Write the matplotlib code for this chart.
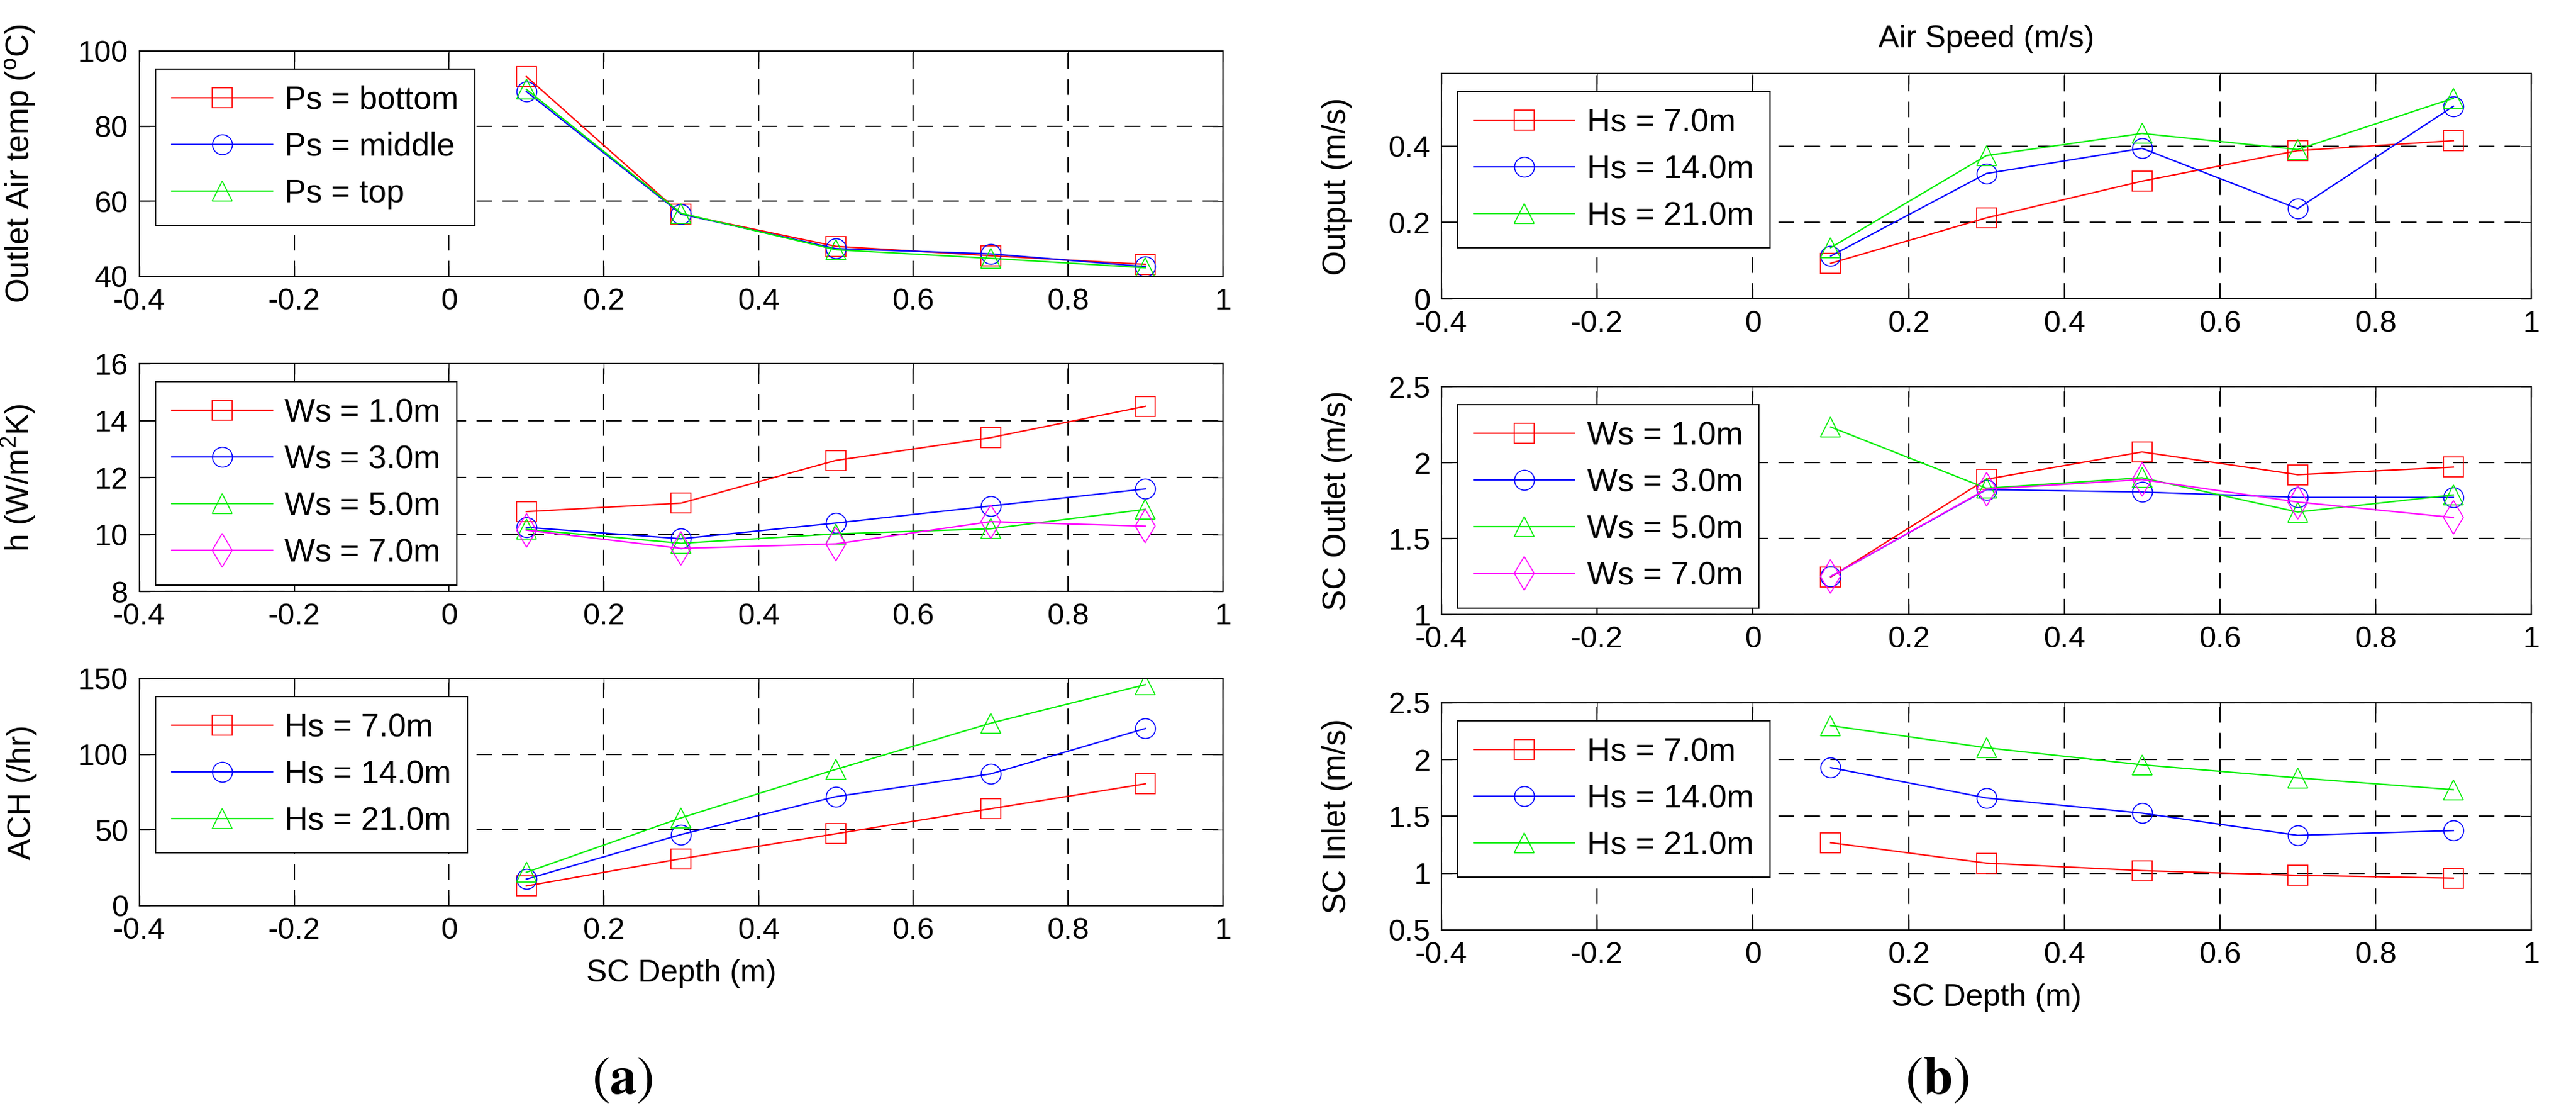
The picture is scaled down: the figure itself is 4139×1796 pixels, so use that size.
import numpy as np
import matplotlib
matplotlib.use('Agg')
import matplotlib.pyplot as plt

plt.rcParams['font.family'] = ['Liberation Sans', 'DejaVu Sans']
plt.rcParams['mathtext.fontset'] = 'custom'
plt.rcParams['mathtext.rm'] = 'Liberation Sans'
plt.rcParams['mathtext.it'] = 'Liberation Sans:italic'

# SC depth (m)
depth = [0.1, 0.3, 0.5, 0.7, 0.9]

# (a) outlet air temperature by position
temp_bottom = [93.2, 56.6, 48.0, 45.5, 43.2]
temp_middle = [89.2, 56.6, 47.4, 46.0, 42.6]
temp_top = [89.8, 56.8, 47.1, 44.8, 42.3]

# (a) heat transfer coefficient by width
h_ws1 = [10.8, 11.1, 12.6, 13.4, 14.5]
h_ws3 = [10.25, 9.85, 10.4, 11.0, 11.6]
h_ws5 = [10.18, 9.69, 10.02, 10.2, 10.88]
h_ws7 = [10.15, 9.51, 9.67, 10.45, 10.29]

# (a) air change per hour by height
ach_hs7 = [13.0, 31.0, 47.5, 64.0, 80.5]
ach_hs14 = [17.5, 47.0, 72.0, 87.0, 117.0]
ach_hs21 = [22.0, 58.0, 90.0, 120.5, 146.0]

# (b) output air speed by height
out_hs7 = [0.093, 0.212, 0.308, 0.388, 0.414]
out_hs14 = [0.112, 0.328, 0.394, 0.236, 0.504]
out_hs21 = [0.134, 0.375, 0.433, 0.391, 0.525]

# (b) SC outlet air speed by width
sco_ws1 = [1.246, 1.89, 2.07, 1.92, 1.97]
sco_ws3 = [1.25, 1.822, 1.806, 1.771, 1.771]
sco_ws5 = [2.234, 1.831, 1.90, 1.674, 1.787]
sco_ws7 = [1.25, 1.825, 1.888, 1.74, 1.638]

# (b) SC inlet air speed by height
sci_hs7 = [1.268, 1.088, 1.022, 0.981, 0.956]
sci_hs14 = [1.929, 1.662, 1.528, 1.333, 1.375]
sci_hs21 = [2.299, 2.104, 1.954, 1.839, 1.735]

RED, BLUE, GREEN, MAG = '#ff0000', '#0000ff', '#00ee00', '#ff00ff'
FS = 35

fig = plt.figure(figsize=(41.39, 17.96), dpi=100)

lx, lw_ = 0.0541, 0.4206
rx, rw = 0.5596, 0.4230
left_rows = [(0.7528, 0.2016), (0.4710, 0.2038), (0.1899, 0.2032)]
right_rows = [(0.7327, 0.2016), (0.4504, 0.2038), (0.1682, 0.2032)]


def style_axes(ax, ylim, yticks, ylab, labx):
    ax.set_xlim(-0.4, 1.0)
    ax.set_xticks([-0.4, -0.2, 0, 0.2, 0.4, 0.6, 0.8, 1.0])
    ax.set_xticklabels(['-0.4', '-0.2', '0', '0.2', '0.4', '0.6', '0.8', '1'])
    ax.set_ylim(*ylim)
    ax.set_yticks(yticks)
    ax.tick_params(direction='in', length=12, width=1.0, labelsize=FS,
                   top=True, right=True, pad=13)
    ax.grid(True, color='black', linestyle=(0, (12, 8)), linewidth=1.5)
    for sp in ax.spines.values():
        sp.set_linewidth(1.5)
    ax.set_ylabel(ylab, fontsize=37)
    ax.yaxis.set_label_coords(labx, 0.5)


def add_legend(ax):
    leg = ax.legend(loc='upper left', bbox_to_anchor=(0.015, 0.92),
                    borderaxespad=0, fontsize=37.5, frameon=True, fancybox=False,
                    framealpha=1, edgecolor='black', handlelength=3.1,
                    handletextpad=0.38, labelspacing=0.5, borderpad=0.5)
    leg.get_frame().set_linewidth(1.5)
    leg.set_zorder(10)


def series(ax, y, color, marker, label, ms=23):
    ax.plot(depth, y, color=color, marker=marker, markersize=ms,
            markerfacecolor='none', markeredgecolor=color, markeredgewidth=1.2,
            linewidth=1.6, label=label)


# ---- (a) ----
ax1 = fig.add_axes([lx, left_rows[0][0], lw_, left_rows[0][1]])
series(ax1, temp_bottom, RED, 's', 'Ps = bottom')
series(ax1, temp_middle, BLUE, 'o', 'Ps = middle')
series(ax1, temp_top, GREEN, '^', 'Ps = top')
style_axes(ax1, (40, 100), [40, 60, 80, 100], r'Outlet Air temp ($^{\rm o}$C)', -0.094)
add_legend(ax1)

ax2 = fig.add_axes([lx, left_rows[1][0], lw_, left_rows[1][1]])
series(ax2, h_ws1, RED, 's', 'Ws = 1.0m')
series(ax2, h_ws3, BLUE, 'o', 'Ws = 3.0m')
series(ax2, h_ws5, GREEN, '^', 'Ws = 5.0m')
series(ax2, h_ws7, MAG, 'd', 'Ws = 7.0m', ms=28)
style_axes(ax2, (8, 16), [8, 10, 12, 14, 16], r'h (W/m$^2$K)', -0.094)
add_legend(ax2)

ax3 = fig.add_axes([lx, left_rows[2][0], lw_, left_rows[2][1]])
series(ax3, ach_hs7, RED, 's', 'Hs = 7.0m')
series(ax3, ach_hs14, BLUE, 'o', 'Hs = 14.0m')
series(ax3, ach_hs21, GREEN, '^', 'Hs = 21.0m')
style_axes(ax3, (0, 150), [0, 50, 100, 150], 'ACH (/hr)', -0.094)
add_legend(ax3)
ax3.set_xlabel('SC Depth (m)', fontsize=36)
ax3.xaxis.set_label_coords(0.5, -0.235)

# ---- (b) ----
bx1 = fig.add_axes([rx, right_rows[0][0], rw, right_rows[0][1]])
series(bx1, out_hs7, RED, 's', 'Hs = 7.0m')
series(bx1, out_hs14, BLUE, 'o', 'Hs = 14.0m')
series(bx1, out_hs21, GREEN, '^', 'Hs = 21.0m')
style_axes(bx1, (0, 0.59), [0, 0.2, 0.4], 'Output (m/s)', -0.082)
bx1.set_yticklabels(['0', '0.2', '0.4'])
add_legend(bx1)
bx1.set_title('Air Speed (m/s)', fontsize=36, pad=30)

bx2 = fig.add_axes([rx, right_rows[1][0], rw, right_rows[1][1]])
series(bx2, sco_ws1, RED, 's', 'Ws = 1.0m')
series(bx2, sco_ws3, BLUE, 'o', 'Ws = 3.0m')
series(bx2, sco_ws5, GREEN, '^', 'Ws = 5.0m')
series(bx2, sco_ws7, MAG, 'd', 'Ws = 7.0m', ms=28)
style_axes(bx2, (1, 2.5), [1, 1.5, 2, 2.5], 'SC Outlet (m/s)', -0.082)
bx2.set_yticklabels(['1', '1.5', '2', '2.5'])
add_legend(bx2)

bx3 = fig.add_axes([rx, right_rows[2][0], rw, right_rows[2][1]])
series(bx3, sci_hs7, RED, 's', 'Hs = 7.0m')
series(bx3, sci_hs14, BLUE, 'o', 'Hs = 14.0m')
series(bx3, sci_hs21, GREEN, '^', 'Hs = 21.0m')
style_axes(bx3, (0.5, 2.5), [0.5, 1, 1.5, 2, 2.5], 'SC Inlet (m/s)', -0.082)
bx3.set_yticklabels(['0.5', '1', '1.5', '2', '2.5'])
add_legend(bx3)
bx3.set_xlabel('SC Depth (m)', fontsize=36)
bx3.xaxis.set_label_coords(0.5, -0.235)

fig.text(0.2416, 0.034, r'$(\mathbf{a})$', fontsize=62, ha='center', va='center',
         math_fontfamily='stix')
fig.text(0.7521, 0.034, r'$(\mathbf{b})$', fontsize=62, ha='center', va='center',
         math_fontfamily='stix')

fig.savefig('out.png', dpi=100)
